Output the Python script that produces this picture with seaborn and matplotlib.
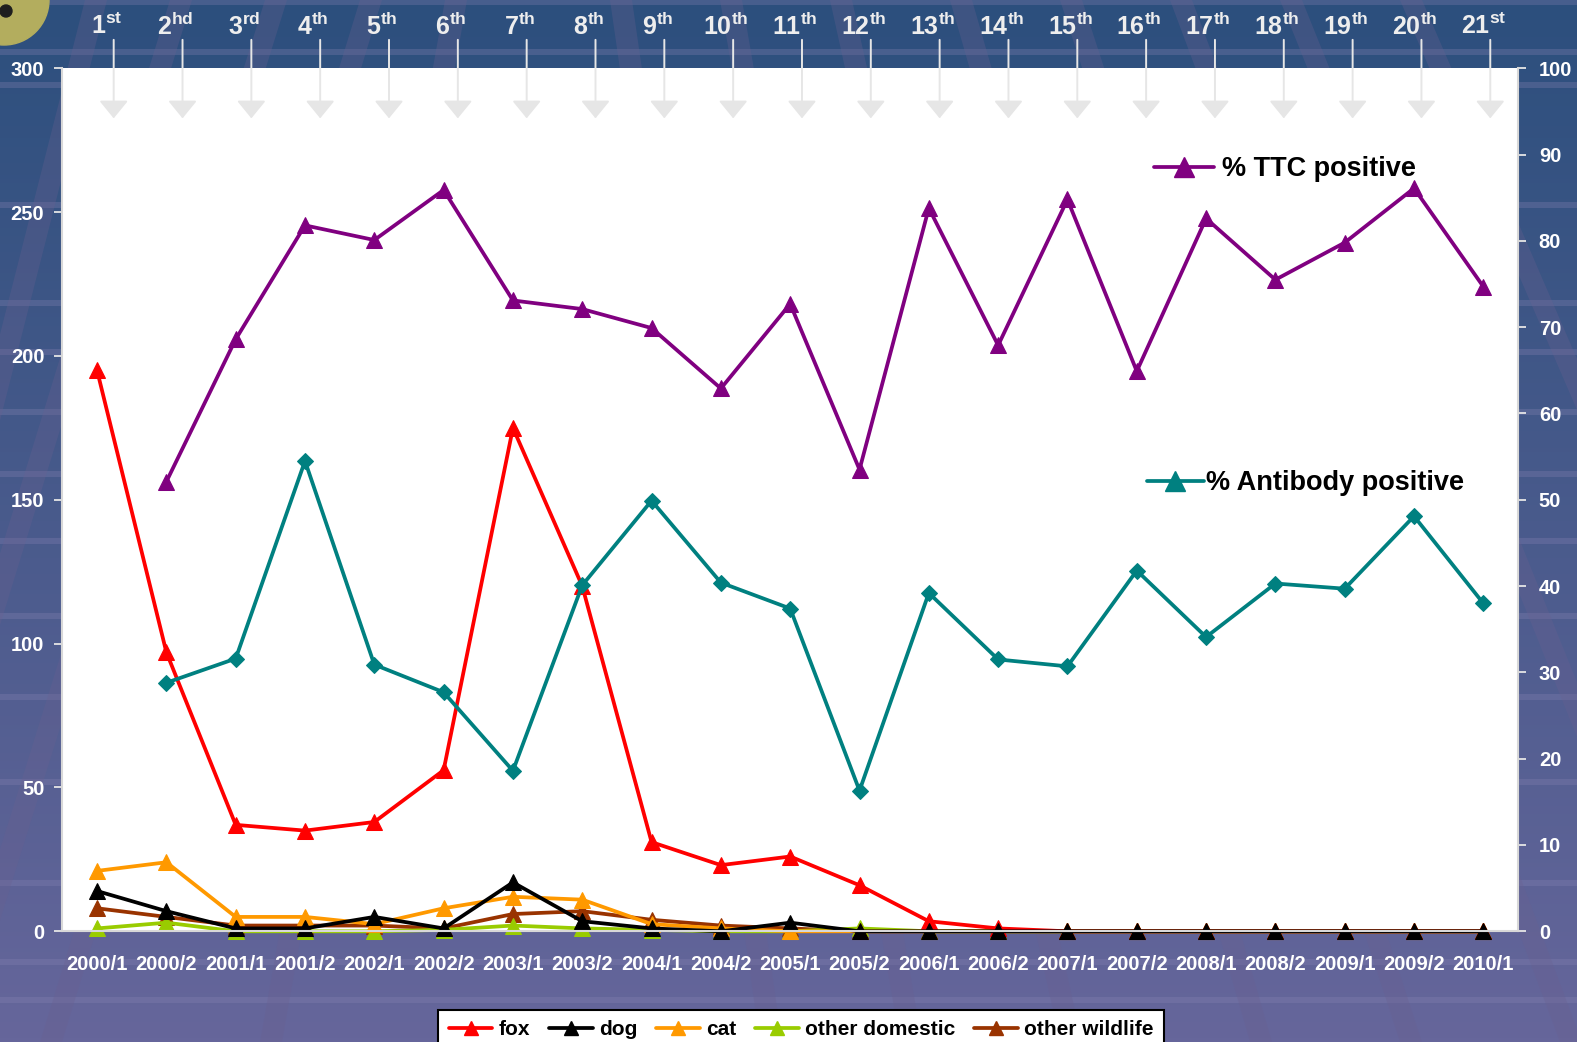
import numpy as np
import matplotlib
matplotlib.use("Agg")
import matplotlib.pyplot as plt
import seaborn as sns
from matplotlib.lines import Line2D
from matplotlib.patches import Polygon, Circle

# data
periods = ['2000/1', '2000/2', '2001/1', '2001/2', '2002/1', '2002/2', '2003/1',
           '2003/2', '2004/1', '2004/2', '2005/1', '2005/2', '2006/1', '2006/2',
           '2007/1', '2007/2', '2008/1', '2008/2', '2009/1', '2009/2', '2010/1']
ordinal_suffix = ['st', 'hd', 'rd', 'th', 'th', 'th', 'th', 'th', 'th', 'th', 'th',
                  'th', 'th', 'th', 'th', 'th', 'th', 'th', 'th', 'th', 'st']

fox = [195, 97, 37, 35, 38, 56, 175, 120, 31, 23, 26, 16, 3.5, 1, 0, 0, 0, 0, 0, 0, 0]
dog = [14, 7, 1, 1, 5, 1, 17, 3.5, 1, 0, 3, 0, 0, 0, 0, 0, 0, 0, 0, 0, 0]
cat = [21, 24, 5, 5, 2.5, 8, 12, 11, 2.5, 1, 0, 0, 0, 0, 0, 0, 0, 0, 0, 0, 0]
other_domestic = [1, 3, 0, 0, 0, 0.5, 2, 1, 0.5, 0, 0, 1, 0, 0, 0, 0, 0, 0, 0, 0, 0]
other_wildlife = [8, 5, 2, 2, 2, 1, 6, 7, 4, 2, 1, 0, 0, 0, 0, 0, 0, 0, 0, 0, 0]

ttc_pos = [np.nan, 52.1, 68.6, 81.8, 80.1, 85.9, 73.1, 72.1, 69.9, 62.9, 72.7,
           53.5, 83.8, 67.9, 84.8, 64.9, 82.6, 75.5, 79.8, 86.1, 74.7]
antibody_pos = [np.nan, 28.8, 31.6, 54.5, 30.9, 27.7, 18.6, 40.1, 49.9, 40.4, 37.4,
                16.3, 39.2, 31.5, 30.7, 41.8, 34.1, 40.3, 39.7, 48.1, 38.0]

sns.set_theme(style="white")
plt.rcParams['font.family'] = ['Liberation Sans', 'DejaVu Sans']
plt.rcParams['font.weight'] = 'bold'
plt.rcParams['text.color'] = 'black'
plt.rcParams['mathtext.fontset'] = 'custom'
plt.rcParams['mathtext.bf'] = 'Liberation Sans:bold'
plt.rcParams['mathtext.rm'] = 'Liberation Sans:bold'

W, H = 1577, 1042
fig = plt.figure(figsize=(W / 100, H / 100), dpi=100)

# slide background
bg = fig.add_axes([0, 0, 1, 1], zorder=-10)
top_c = np.array([0x2c, 0x4f, 0x7d]) / 255
bot_c = np.array([0x66, 0x66, 0x9b]) / 255
t = np.linspace(0, 1, 256)[:, None, None]
grad = top_c * (1 - t) + bot_c * t
grad = np.repeat(grad, 2, axis=1)
bg.imshow(grad, extent=[0, W, H, 0], aspect='auto')
for ys in [2, 52, 85, 205, 303, 352, 412, 474, 541, 616, 697, 782, 883, 962, 1000]:
    bg.axhspan(ys - 3, ys + 3, color='#8884b4', alpha=0.3, lw=0)
for x0, x1 in [(85, -180), (170, -150), (265, -60), (360, 40), (445, 260)]:
    bg.add_patch(Polygon([(x0, 0), (x0 + 22, 0), (x1 + 22, H), (x1, H)],
                         closed=True, color='#6a6090', alpha=0.3, lw=0))
for x0, x1 in [(610, 760), (720, 900), (830, 1060), (950, 1250), (1060, 1400),
               (1170, 1560), (1280, 1700), (1400, 1850)]:
    bg.add_patch(Polygon([(x0, 0), (x0 + 22, 0), (x1 + 22, H), (x1, H)],
                         closed=True, color='#6a6090', alpha=0.3, lw=0))
bg.add_patch(Circle((4, 0), 45, color='#b3ad5e'))
bg.add_patch(Circle((6, 11), 6, color='#1e1e1e'))
bg.set_xlim(0, W)
bg.set_ylim(H, 0)
bg.axis('off')

# main chart
ax = fig.add_axes([62.4 / W, 1 - 931.3 / H, 1455.6 / W, 863 / H], zorder=1)
ax.set_facecolor('white')
ax2 = ax.twinx()

xs = np.arange(len(periods))
left_series = [
    ('other wildlife', other_wildlife, '#993300'),
    ('other domestic', other_domestic, '#99cc00'),
    ('cat', cat, '#ff9900'),
    ('fox', fox, '#ff0000'),
    ('dog', dog, '#000000'),
]
for name, vals, c in left_series:
    sns.lineplot(x=xs, y=vals, ax=ax, color=c, marker='^', markersize=11,
                 markeredgecolor=c, linewidth=2.7, clip_on=False)

sns.lineplot(x=xs, y=ttc_pos, ax=ax2, color='#800080', marker='^', markersize=12,
             markeredgecolor='#800080', linewidth=2.7, clip_on=False)
sns.lineplot(x=xs, y=antibody_pos, ax=ax2, color='#008080', marker='D', markersize=8,
             markeredgecolor='#008080', linewidth=2.7, clip_on=False)

ax.set_xlim(-0.5, len(periods) - 0.5)
ax.set_ylim(0, 300)
ax2.set_ylim(0, 100)
ax.set_yticks(range(0, 301, 50))
ax2.set_yticks(range(0, 101, 10))
ax.set_xticks(xs)
ax.set_xticklabels(periods)
ax.set_xticks(np.arange(len(periods) + 1) - 0.5, minor=True)
ax.set_xlabel('')
ax.set_ylabel('')
ax2.set_ylabel('')

tick_col = '#e6e6e6'
ax.tick_params(axis='x', which='major', length=0, pad=17, labelsize=14.5,
               labelcolor='white')
ax.tick_params(axis='x', which='minor', length=6, width=1.3, color=tick_col,
               direction='out')
ax.tick_params(axis='y', length=6, width=1.3, color=tick_col, direction='out',
               pad=7, labelsize=14.5, labelcolor='white', left=True)
ax2.tick_params(axis='y', length=6, width=1.3, color=tick_col, direction='out',
                pad=9, labelsize=14.5, labelcolor='white', right=True)
for lab in ax.get_xticklabels() + ax.get_yticklabels() + ax2.get_yticklabels():
    lab.set_fontweight('bold')

for a in (ax, ax2):
    for s in a.spines.values():
        s.set_visible(False)
ax.spines['left'].set_visible(True)
ax.spines['bottom'].set_visible(True)
ax2.spines['right'].set_visible(True)
for s in (ax.spines['left'], ax.spines['bottom'], ax2.spines['right']):
    s.set_color('#d8d8d8')
    s.set_linewidth(1.5)
ax.grid(False)
ax2.grid(False)

# ordinal markers with arrows above the plot
trans = ax.get_xaxis_transform()
for i, suf in enumerate(ordinal_suffix):
    xa = i + 0.24 - 0.007 * i
    ax.annotate('', xy=(xa, 0.942), xycoords=trans, xytext=(xa, 1.033),
                textcoords=trans, annotation_clip=False,
                arrowprops=dict(arrowstyle='-|>,head_width=0.45,head_length=0.55',
                                color='#e6e6e6', lw=1.4, mutation_scale=20,
                                shrinkA=0, shrinkB=0))
    ax.text(xa - 0.1, 1.049, r'$\mathbf{%d^{%s}}$' % (i + 1, suf), transform=trans,
            ha='center', va='center', fontsize=18, color='#eeeeee', clip_on=False)

# in-plot series labels
ttc_handle = Line2D([], [], color='#800080', lw=2.7, marker='^', markersize=14)
leg1 = ax2.legend([ttc_handle], ['% TTC positive'], loc='center left',
                  bbox_to_anchor=(0.750, 0.883), frameon=False, borderpad=0,
                  borderaxespad=0, handlelength=2.2, handletextpad=0.3,
                  labelcolor='black', prop={'size': 19.5, 'weight': 'bold'})
ax2.add_artist(leg1)
ab_handle = Line2D([], [], color='#008080', lw=2.7, marker='^', markersize=14)
ax2.legend([ab_handle], ['% Antibody positive'], loc='center left',
           bbox_to_anchor=(0.745, 0.519), frameon=False, borderpad=0,
           borderaxespad=0, handlelength=2.1, handletextpad=0.1,
           labelcolor='black', prop={'size': 19.5, 'weight': 'bold'})

# bottom legend
handles = []
labels = []
for name in ['fox', 'dog', 'cat', 'other domestic', 'other wildlife']:
    c = [cc for n, v, cc in left_series if n == name][0]
    handles.append(Line2D([], [], color=c, lw=2.7, marker='^', markersize=10))
    labels.append(name)
leg = fig.legend(handles, labels, loc='upper center', bbox_to_anchor=(0.508, 1 - 1010 / H),
                 ncol=5, frameon=True, fancybox=False, framealpha=1, edgecolor='black',
                 facecolor='white', handlelength=2.1, handletextpad=0.3,
                 columnspacing=0.9, borderpad=0.5, borderaxespad=0,
                 labelcolor='black', prop={'size': 15, 'weight': 'bold'})
leg.get_frame().set_linewidth(1.5)

fig.savefig('out.png', dpi=100)
